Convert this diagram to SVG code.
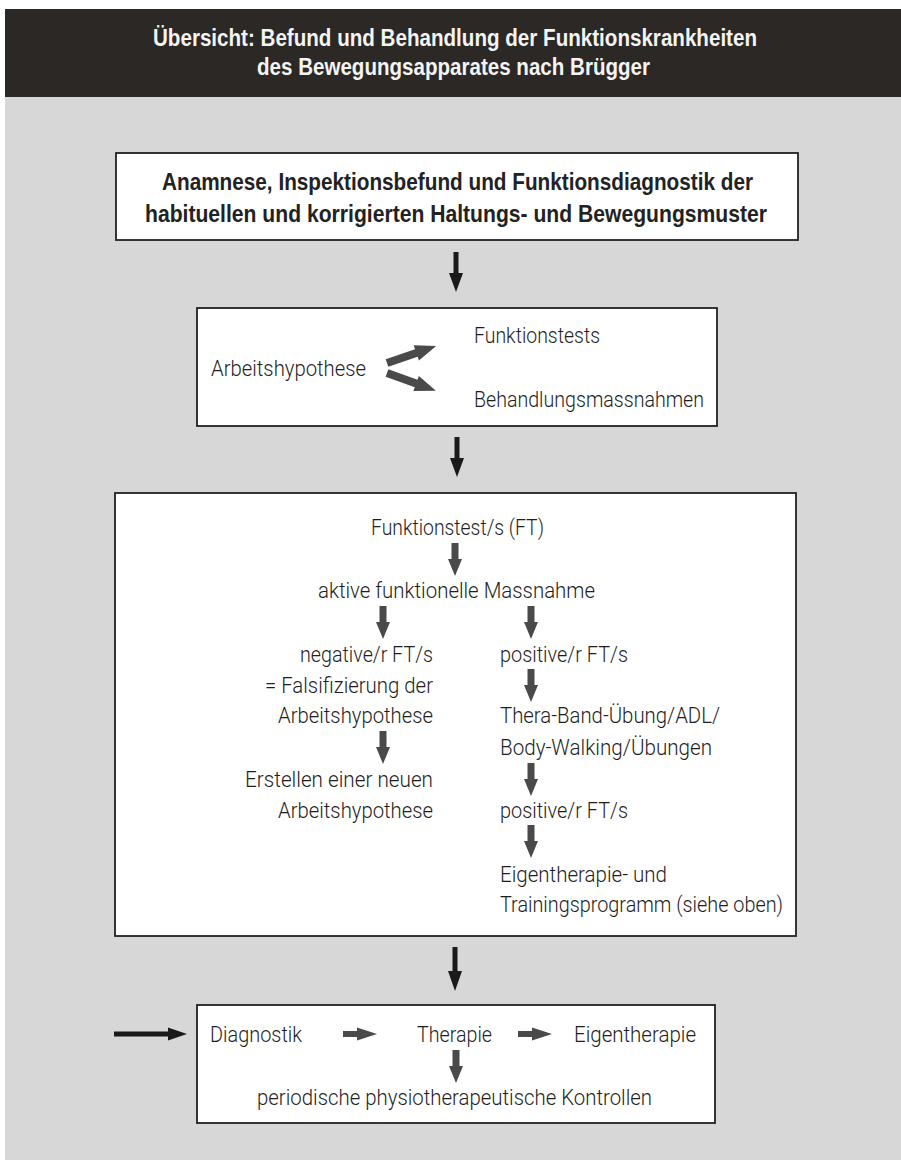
<svg xmlns="http://www.w3.org/2000/svg" xmlns:xlink="http://www.w3.org/1999/xlink" width="901" height="1160" viewBox="0 0 901 1160">
<style>
.hd{font-family:"Liberation Sans",Arial,sans-serif;font-weight:bold;font-size:23px;fill:#f4f4f4}
.bt{font-family:"Liberation Sans",Arial,sans-serif;font-weight:bold;font-size:24px;fill:#222}
.tx{font-family:Roboto,"Liberation Sans",sans-serif;font-weight:300;font-size:22.5px;fill:#1e1e1e}
.box{fill:#fff;stroke:#222;stroke-width:1.8}
.ga{fill:#4a4a4a}
.ba{fill:#1a1a1a}
</style>
<defs>
<path id="gd" d="M-3.5,0H3.5V16H7L0,33L-7,16H-3.5Z"/>
<path id="gr" d="M0,-3H14V-6.5L34,0L14,6.5V3H0Z"/>
<path id="gdiag" d="M0,-4H31V-8L52,0L31,8V4H0Z"/>
</defs>
<rect x="0" y="0" width="901" height="1160" fill="#fff"/>
<rect x="5" y="97" width="896" height="1063" fill="#d7d7d7"/>
<g id="header">
<rect x="5" y="9" width="896" height="88" fill="#2b2826"/>
<text class="hd" x="153" y="46" textLength="604" lengthAdjust="spacingAndGlyphs">Übersicht: Befund und Behandlung der Funktionskrankheiten</text>
<text class="hd" x="257" y="75" textLength="393" lengthAdjust="spacingAndGlyphs">des Bewegungsapparates nach Brügger</text>
</g>
<g id="box1">
<rect class="box" x="116" y="153" width="682" height="87"/>
<text class="bt" x="162" y="190" textLength="591" lengthAdjust="spacingAndGlyphs">Anamnese, Inspektionsbefund und Funktionsdiagnostik der</text>
<text class="bt" x="145" y="222" textLength="622" lengthAdjust="spacingAndGlyphs">habituellen und korrigierten Haltungs- und Bewegungsmuster</text>
</g>
<g id="box2">
<rect class="box" x="197" y="308" width="520" height="118"/>
<text class="tx" x="211" y="376" textLength="155" lengthAdjust="spacingAndGlyphs">Arbeitshypothese</text>
<text class="tx" x="474" y="343" textLength="126" lengthAdjust="spacingAndGlyphs">Funktionstests</text>
<text class="tx" x="474" y="407" textLength="230" lengthAdjust="spacingAndGlyphs">Behandlungsmassnahmen</text>
</g>
<g id="box3">
<rect class="box" x="115" y="493" width="681" height="443"/>
<text class="tx" x="371" y="535" textLength="173" lengthAdjust="spacingAndGlyphs">Funktionstest/s (FT)</text>
<text class="tx" x="318" y="598" textLength="277" lengthAdjust="spacingAndGlyphs">aktive funktionelle Massnahme</text>
<text class="tx" x="300" y="662" textLength="133" lengthAdjust="spacingAndGlyphs">negative/r FT/s</text>
<text class="tx" x="265" y="693" textLength="168" lengthAdjust="spacingAndGlyphs">= Falsifizierung der</text>
<text class="tx" x="278" y="723" textLength="155" lengthAdjust="spacingAndGlyphs">Arbeitshypothese</text>
<text class="tx" x="245" y="787" textLength="188" lengthAdjust="spacingAndGlyphs">Erstellen einer neuen</text>
<text class="tx" x="278" y="818" textLength="155" lengthAdjust="spacingAndGlyphs">Arbeitshypothese</text>
<text class="tx" x="500" y="662" textLength="128" lengthAdjust="spacingAndGlyphs">positive/r FT/s</text>
<text class="tx" x="500" y="723" textLength="220" lengthAdjust="spacingAndGlyphs">Thera-Band-Übung/ADL/</text>
<text class="tx" x="500" y="755" textLength="212" lengthAdjust="spacingAndGlyphs">Body-Walking/Übungen</text>
<text class="tx" x="500" y="818" textLength="128" lengthAdjust="spacingAndGlyphs">positive/r FT/s</text>
<text class="tx" x="500" y="882" textLength="167" lengthAdjust="spacingAndGlyphs">Eigentherapie- und</text>
<text class="tx" x="500" y="912" textLength="283" lengthAdjust="spacingAndGlyphs">Trainingsprogramm (siehe oben)</text>
</g>
<g id="box4">
<rect class="box" x="197" y="1005" width="518" height="118"/>
<text class="tx" x="210" y="1042" textLength="92" lengthAdjust="spacingAndGlyphs">Diagnostik</text>
<text class="tx" x="417" y="1042" textLength="75" lengthAdjust="spacingAndGlyphs">Therapie</text>
<text class="tx" x="574" y="1042" textLength="122" lengthAdjust="spacingAndGlyphs">Eigentherapie</text>
<text class="tx" x="257" y="1105" textLength="395" lengthAdjust="spacingAndGlyphs">periodische physiotherapeutische Kontrollen</text>
</g>
<g id="connectors">
<path class="ba" d="M453.5,252H458.5V273H463L456,292L449,273H453.5Z"/>
<path class="ba" d="M454.5,437H459.5V458H464L457,477L450,458H454.5Z"/>
<path class="ba" d="M452.5,947H457.5V971H462L455,991L448,971H452.5Z"/>
<path class="ba" d="M114,1031.5H168V1027.5L187,1034L168,1040.5V1036.5H114Z"/>
<use href="#gdiag" xlink:href="#gdiag" class="ga" transform="translate(387,363) rotate(-19)"/>
<use href="#gdiag" xlink:href="#gdiag" class="ga" transform="translate(387,373) rotate(20)"/>
<use href="#gd" xlink:href="#gd" class="ga" transform="translate(455,543)"/>
<use href="#gd" xlink:href="#gd" class="ga" transform="translate(383,606)"/>
<use href="#gd" xlink:href="#gd" class="ga" transform="translate(531,606)"/>
<use href="#gd" xlink:href="#gd" class="ga" transform="translate(531,669)"/>
<use href="#gd" xlink:href="#gd" class="ga" transform="translate(383,731)"/>
<use href="#gd" xlink:href="#gd" class="ga" transform="translate(531,763)"/>
<use href="#gd" xlink:href="#gd" class="ga" transform="translate(531,825)"/>
<use href="#gd" xlink:href="#gd" class="ga" transform="translate(456,1050)"/>
<use href="#gr" xlink:href="#gr" class="ga" transform="translate(343,1034)"/>
<use href="#gr" xlink:href="#gr" class="ga" transform="translate(518,1034)"/>
</g>
</svg>
